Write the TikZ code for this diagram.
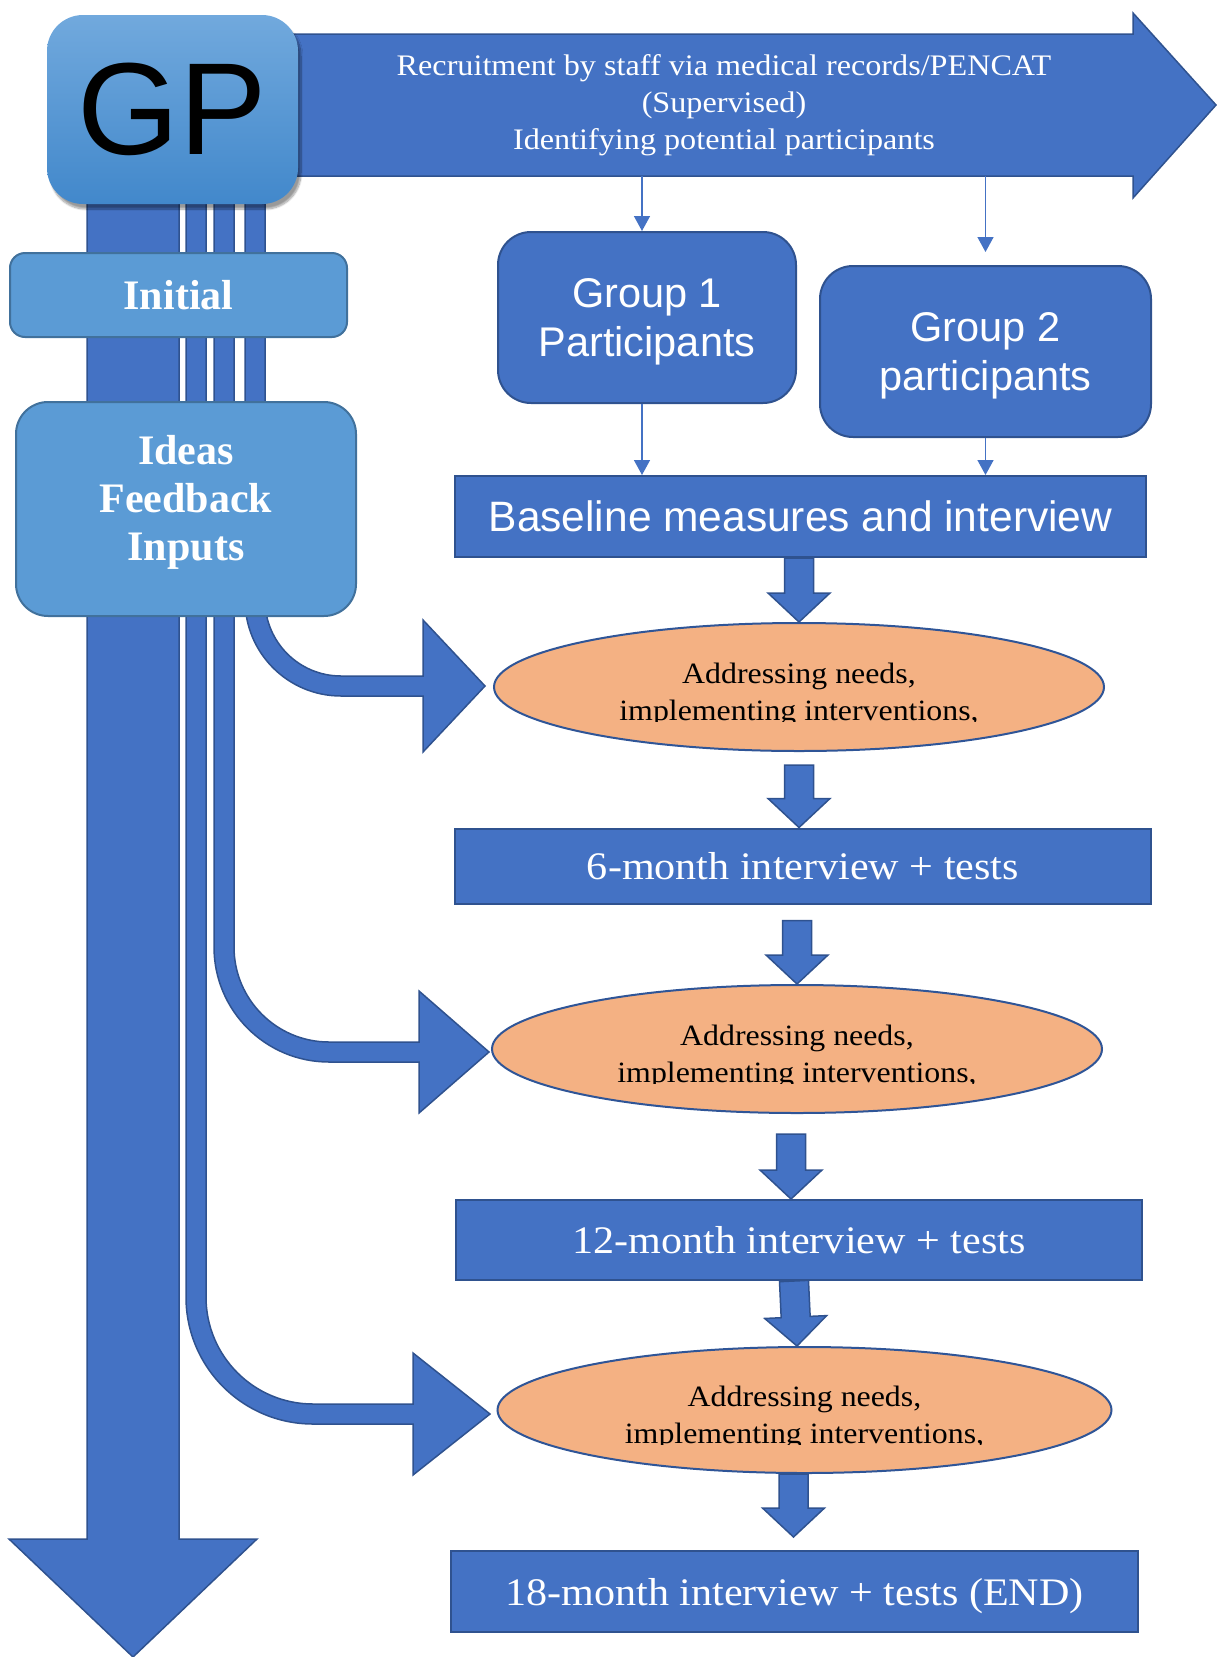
\documentclass[tikz,border=0pt]{standalone}
\usepackage{fontspec}
\setmainfont{Liberation Serif}
\newfontfamily\arialfont{Liberation Sans}
\newfontfamily\wideserif{Liberation Serif}[FakeStretch=1.08]
\usetikzlibrary{arrows.meta}
\usetikzlibrary{calc}
\usetikzlibrary{positioning}
\usetikzlibrary{shapes.geometric}
\usetikzlibrary{shadows.blur}
\definecolor{arrowblue}{HTML}{4472C4}
\definecolor{arrowedge}{HTML}{2F528F}
\definecolor{paleblue}{HTML}{5B9BD5}
\definecolor{paleedge}{HTML}{41719C}
\definecolor{gptop}{HTML}{71A9DD}
\definecolor{gpbot}{HTML}{4288CB}
\definecolor{needsfill}{HTML}{F4B183}
\definecolor{needsedge}{HTML}{2F5597}
\tikzset{blockarrow/.style = {fill=arrowblue, draw=arrowedge, line width=1.5pt}}
\tikzset{gp/.style = {rounded corners=36pt, top color=gptop, bottom color=gpbot, minimum width=251pt, minimum height=189pt, inner sep=0, font=\arialfont\fontsize{131}{131}\selectfont, blur shadow={shadow xshift=3pt, shadow yshift=-5pt, shadow blur steps=10}}}
\tikzset{side/.style = {fill=paleblue, draw=paleedge, line width=2pt, inner sep=0, text=white, align=center, font=\bfseries\fontsize{42}{48}\selectfont}}
\tikzset{group/.style = {fill=arrowblue, draw=arrowedge, line width=2pt, rounded corners=33pt, inner sep=0, text=white, align=center, text height=87pt, font=\arialfont\fontsize{41.5}{49}\selectfont}}
\tikzset{stage/.style = {fill=arrowblue, draw=arrowedge, line width=2pt, inner sep=0, text=white, text height=27pt, text depth=0pt, font=\wideserif\fontsize{39}{45}\selectfont}}
\tikzset{needs/.style = {ellipse, fill=needsfill, draw=needsedge, line width=2pt, inner sep=0, minimum width=610pt, minimum height=128pt}}
\tikzset{needstext/.style = {inner sep=0, align=center, text depth=7pt, font=\wideserif\fontsize{29.5}{37}\selectfont}}
\tikzset{link/.style = {draw=arrowblue, line width=1.5pt, -{Triangle[length=15pt, width=16pt]}}}
% thick straight arrow from #1 to its tip #2
\newcommand{\blockarrow}[2]{%
  \coordinate (ba-s) at #1;
  \coordinate (ba-t) at #2;
  \coordinate (ba-h) at ($(ba-t)!29pt!(ba-s)$);
  \draw[blockarrow] ($(ba-s)!14.5pt!90:(ba-t)$) -- ($(ba-h)!14.5pt!-90:(ba-s)$) -- ($(ba-h)!31pt!-90:(ba-s)$) -- (ba-t) -- ($(ba-h)!31pt!90:(ba-s)$) -- ($(ba-h)!14.5pt!90:(ba-s)$) -- ($(ba-s)!14.5pt!-90:(ba-t)$) -- cycle;}
% bent arrow: stem x, top y, shaft y, radius, head base x, tip x, half head
\newcommand{\bentarrow}[7]{%
  \draw[blockarrow] ({#1-10}, #2) -- ({#1-10}, {#3-#4})
    .. controls ({#1-10}, {#3-#4+0.5523*(#4+10)}) and ({#1+#4-0.5523*(#4+10)}, {#3+10}) .. ({#1+#4}, {#3+10})
    -- (#5, {#3+10}) -- (#5, {#3+#7}) -- (#6, #3) -- (#5, {#3-#7}) -- (#5, {#3-10}) -- ({#1+#4}, {#3-10})
    .. controls ({#1+#4-0.5523*(#4-10)}, {#3-10}) and ({#1+10}, {#3-#4+0.5523*(#4-10)}) .. ({#1+10}, {#3-#4})
    -- ({#1+10}, #2) -- cycle;}

\begin{document}
\begin{tikzpicture}[x=1pt, y=-1pt]
  \useasboundingbox (0,0) rectangle (1216,1657);

  % long arrow down the left side
  \draw[blockarrow] (87,190) -- (87,1539) -- (9,1539) -- (133,1657) -- (257,1539) -- (179,1539) -- (179,190) -- cycle;

  % feedback into each stage
  \bentarrow{255}{190}{686}{86}{423}{485}{66}
  \bentarrow{224}{190}{1052}{105}{419}{489}{61}
  \bentarrow{196}{190}{1414}{117}{413}{490}{61}

  % recruitment arrow
  \draw[blockarrow] (290,34) -- (1133,34) -- (1133,13) -- (1216,105) -- (1133,198) -- (1133,176) -- (290,176) -- cycle;
  \coordinate (recbot) at (724,176);
  \node[text=white, align=center, text depth=7pt, font=\wideserif\fontsize{29.8}{37}\selectfont] (rec) at (724,105.5) {Recruitment by staff via medical records/PENCAT\\(Supervised)\\Identifying potential participants};

  \node[gp] (gp) at (172.5,109.5) {GP};
  \node[side, minimum width=337pt, minimum height=84pt, rounded corners=15pt] (init) at (178.5,295) {Initial};
  \node[side, minimum width=340pt, minimum height=214pt, rounded corners=32pt, text depth=23pt] (ideas) at (186,509) {Ideas\\Feedback\\Inputs};

  \node[group, minimum width=298pt, minimum height=171pt] (g1) at (647,317.5) {Group 1\\Participants};
  \node[group, minimum width=331pt, minimum height=171pt] (g2) at (985.5,351.5) {Group 2\\participants};
  \node[stage, minimum width=691pt, minimum height=81pt, text height=30pt, font=\arialfont\fontsize{42.5}{49}\selectfont] (base) at (800.5,516.5) {Baseline measures and interview};
  \node[needs] (ell1) at (799,687) {};
  \node[stage, minimum width=696pt, minimum height=75pt] (m6) at (803,866) {6-month interview + tests};
  \node[needs] (ell2) at (797,1049) {};
  \node[stage, minimum width=686pt, minimum height=80pt] (m12) at (799,1240) {12-month interview + tests};
  \node[needs, minimum width=614pt, minimum height=126pt] (ell3) at (804.5,1410) {};
  \node[stage, minimum width=687pt, minimum height=81pt] (m18) at (794.5,1591.5) {18-month interview + tests (END)};

  % text of the ellipses, cut off under the second line
  \foreach \e in {ell1, ell2, ell3} {
    \begin{scope}
      \clip ($(\e.center)+(-320,-70)$) rectangle ($(\e.center)+(320,34)$);
      \node[needstext] (\e txt) at ($(\e.center)+(0,8)$) {Addressing needs,\\implementing interventions,};
    \end{scope}
  }

  \coordinate (g1in) at ($(g1.north)+(-5,0)$);
  \coordinate (g1out) at ($(g1.south)+(-5,0)$);
  \draw[link] (recbot -| g1in) -- (g1in);
  \draw[link, shorten >=13pt] (recbot -| g2.north) -- (g2.north);
  \draw[link] (g1out) -- (g1out |- base.north);
  \draw[link] (g2.south) -- (g2.south |- base.north);

  \blockarrow{(ell1.north |- base.south)}{(ell1.north)}
  \blockarrow{($(ell1.south)+(0,13)$)}{(ell1.south |- m6.north)}
  \blockarrow{($(ell2.north |- m6.south)+(0,16)$)}{(ell2.north)}
  \blockarrow{($(ell2.south)+(-6,20)$)}{($(ell2.south |- m12.north)+(-6,0)$)}
  \blockarrow{($(m12.south)+(-5,0)$)}{($(ell3.north)+(-7.5,0)$)}
  \blockarrow{($(ell3.south)+(-11,0)$)}{($(ell3.south |- m18.north)+(-11,-13)$)}
\end{tikzpicture}
\end{document}
